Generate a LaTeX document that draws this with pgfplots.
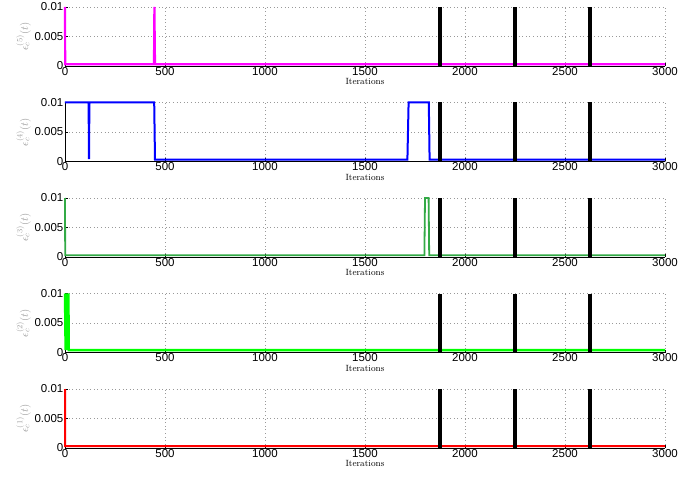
\documentclass[border=0pt]{standalone}
\usepackage{fontspec}
\setsansfont{Liberation Sans}
\usepackage{pgfplots}
\pgfplotsset{compat=1.18}
\definecolor{dgreen}{RGB}{51,170,70}
\definecolor{mag}{RGB}{255,0,255}
\pgfplotsset{
 sub/.style={
  scale only axis, width=600pt, height=59pt,
  xmin=0,xmax=3000,ymin=0,ymax=0.01,
  axis x line*=bottom, axis y line*=left,
  xtick={0,500,1000,1500,2000,2500,3000},
  xticklabels={0,500,1000,1500,2000,2500,3000},
  ytick={0,0.005,0.01}, yticklabels={0,0.005,0.01},
  scaled y ticks=false, scaled x ticks=false,
  grid=major,
  major grid style={gray!80, line width=0.6pt, dash pattern=on 0.6pt off 3pt},
  tick align=inside, major tick length=3pt,
  tick style={black, line width=0.6pt},
  tick label style={font=\sffamily\fontsize{11.5}{12}\selectfont, /pgf/number format/assume math mode=true},
  xticklabel style={inner sep=1pt},
  yticklabel style={inner sep=1.5pt},
  xlabel={Iterations},
  xlabel style={font=\fontsize{9}{10}\selectfont, inner sep=0pt, at={(axis description cs:0.5,0)}, anchor=north, yshift=-12.5pt},
  ylabel style={font=\fontsize{11}{12}\selectfont, color=gray!75, inner sep=0pt, yshift=2pt},
  axis line style={line width=0.8pt},
  clip=false,
  anchor=south west,
 },
 bar/.style={black, line width=3.8pt, forget plot},
}
\newcommand{\bars}{%
  \addplot[bar] coordinates {(1875,0) (1875,0.01)};
  \addplot[bar] coordinates {(2250,0) (2250,0.01)};
  \addplot[bar] coordinates {(2625,0) (2625,0.01)};
}
\begin{document}
\begin{tikzpicture}
\useasboundingbox (-65pt,0pt) rectangle (634pt,480pt);
% subplot 5 (top)
\begin{axis}[sub, at={(0pt,414pt)}, ylabel={$\epsilon_c^{(5)}(t)$}]
\addplot[mag, line width=2.2pt] coordinates {
(0,0.01) (1,0.0003) (445,0.0003) (447,0.01) (450,0.0003) (3000,0.0003)};
\bars
\end{axis}
% subplot 4
\begin{axis}[sub, at={(0pt,318.5pt)}, ylabel={$\epsilon_c^{(4)}(t)$}]
\addplot[blue, line width=2pt] coordinates {
(0,0.01) (118,0.01) (120,0.0004) (122,0.01) (446,0.01) (450,0.0003)
(1712,0.0003) (1718,0.01) (1819,0.01) (1823,0.0003) (3000,0.0003)};
\bars
\end{axis}
% subplot 3
\begin{axis}[sub, at={(0pt,223pt)}, ylabel={$\epsilon_c^{(3)}(t)$}]
\addplot[dgreen, line width=1.8pt] coordinates {
(0,0.01) (1,0.0003) (1797,0.0003) (1800,0.01) (1818,0.01) (1821,0.0003) (3000,0.0003)};
\bars
\end{axis}
% subplot 2
\begin{axis}[sub, at={(0pt,127.5pt)}, ylabel={$\epsilon_c^{(2)}(t)$}]
\addplot[green, line width=2.4pt] coordinates {
(0,0.01) (3,0.0004) (6,0.01) (9,0.0004) (12,0.01) (15,0.0004) (17,0.01) (19,0.0004) (3000,0.0004)};
\bars
\end{axis}
% subplot 1
\begin{axis}[sub, at={(0pt,32pt)}, ylabel={$\epsilon_c^{(1)}(t)$}]
\addplot[red, line width=2pt] coordinates {
(0,0.01) (1,0.0003) (3000,0.0003)};
\bars
\end{axis}
\end{tikzpicture}
\end{document}
